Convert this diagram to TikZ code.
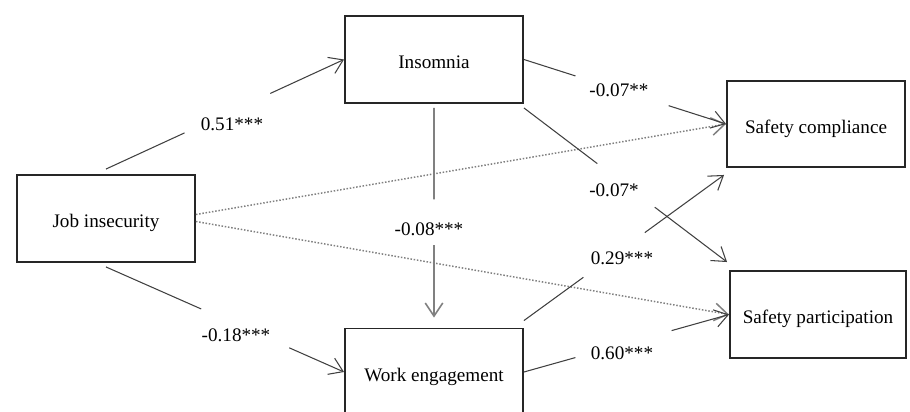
\documentclass[tikz,border=0pt]{standalone}
\usepackage{fontspec}
\setmainfont{Liberation Serif}
\usetikzlibrary{arrows.meta,calc}

\begin{document}
\begin{tikzpicture}[x=0.02cm, y=-0.02cm,
    factorbox/.style ={rectangle, draw=black!85, line width=1.1pt, minimum width=3.56cm, minimum height=1.74cm, text height=10.8pt, text depth=0pt, font=\fontsize{10.9}{13}\selectfont},
    coef/.style ={inner sep=0pt, font=\fontsize{10.9}{13}\selectfont},
    link/.style ={draw=black!75, line width=0.6pt},
    dotlink/.style ={draw=black!50, line width=0.85pt, densely dotted},
    >={Straight Barb[length=7.5pt,width=10pt]}]
   \useasboundingbox (0,0) rectangle (910,412);
   \clip (0,0) rectangle (910,412);

   \node[factorbox] (JI)  at (106,218.5) {Job insecurity};
   \node[factorbox] (INS) at (434,59.5)  {Insomnia};
   \node[factorbox] (WE)  at (434,372)   {Work engagement};
   \node[factorbox, minimum height=1.72cm] (SC) at (816,124)   {Safety compliance};
   \node[factorbox, minimum width=3.52cm]  (SP) at (818,314.5) {Safety participation};

   \node[coef] (b1) at (232,124) {0.51***};
   \node[coef] (b2) at (236,335) {-0.18***};
   \node[coef] (b3) at (429,229) {-0.08***};
   \node[coef] (b4) at (619,90)  {-0.07**};
   \node[coef] (b5) at (614,190) {-0.07*};
   \node[coef] (b6) at (622,258) {0.29***};
   \node[coef] (b7) at (622,353) {0.60***};

   \coordinate (JIu)  at ($(JI.north)+(0,-5)$);
   \coordinate (JId)  at ($(JI.south)+(0,4)$);
   \coordinate (JIr1) at ($(JI.east)+(0,-4)$);
   \coordinate (JIr2) at ($(JI.east)+(0,3)$);
   \coordinate (INSd) at ($(INS.south)+(0,4)$);
   \coordinate (INSr) at ($(INS.south east)+(0,4)$);
   \coordinate (WEu)  at ($(WE.north)+(0,-10)$);
   \coordinate (WEr)  at ($(WE.north east)+(0,-7)$);
   \coordinate (SCb)  at ($(SC.south west)+(-2,7)$);
   \coordinate (SPt)  at ($(SP.north west)+(-2,-8)$);

   \draw[dotlink, ->] (JIr1) -- (SC.west);
   \draw[dotlink, ->] (JIr2) -- (SP.west);

   \draw[link] (JIu) -- ($(JIu)!.33!(INS.west)$);
   \draw[link, ->] ($(JIu)!.69!(INS.west)$) -- (INS.west);

   \draw[link] (JId) -- ($(JId)!.40!(WE.west)$);
   \draw[link, ->] ($(JId)!.77!(WE.west)$) -- (WE.west);

   \draw[link, draw=black!50, line width=0.9pt] (INSd) -- ($(INSd)!.436!(WEu)$);
   \draw[link, draw=black!50, line width=0.9pt, ->] ($(INSd)!.654!(WEu)$) -- (WEu);

   \draw[link] (INS.east) -- ($(INS.east)!.255!(SC.west)$);
   \draw[link, ->] ($(INS.east)!.716!(SC.west)$) -- (SC.west);

   \draw[link] (INSr) -- ($(INSr)!.361!(SPt)$);
   \draw[link, ->] ($(INSr)!.644!(SPt)$) -- (SPt);

   \draw[link] (WEr) -- ($(WEr)!.297!(SCb)$);
   \draw[link, ->] ($(WEr)!.604!(SCb)$) -- (SCb);

   \draw[link] (WE.east) -- ($(WE.east)!.251!(SP.west)$);
   \draw[link, ->] ($(WE.east)!.72!(SP.west)$) -- (SP.west);

\end{tikzpicture}
\end{document}
